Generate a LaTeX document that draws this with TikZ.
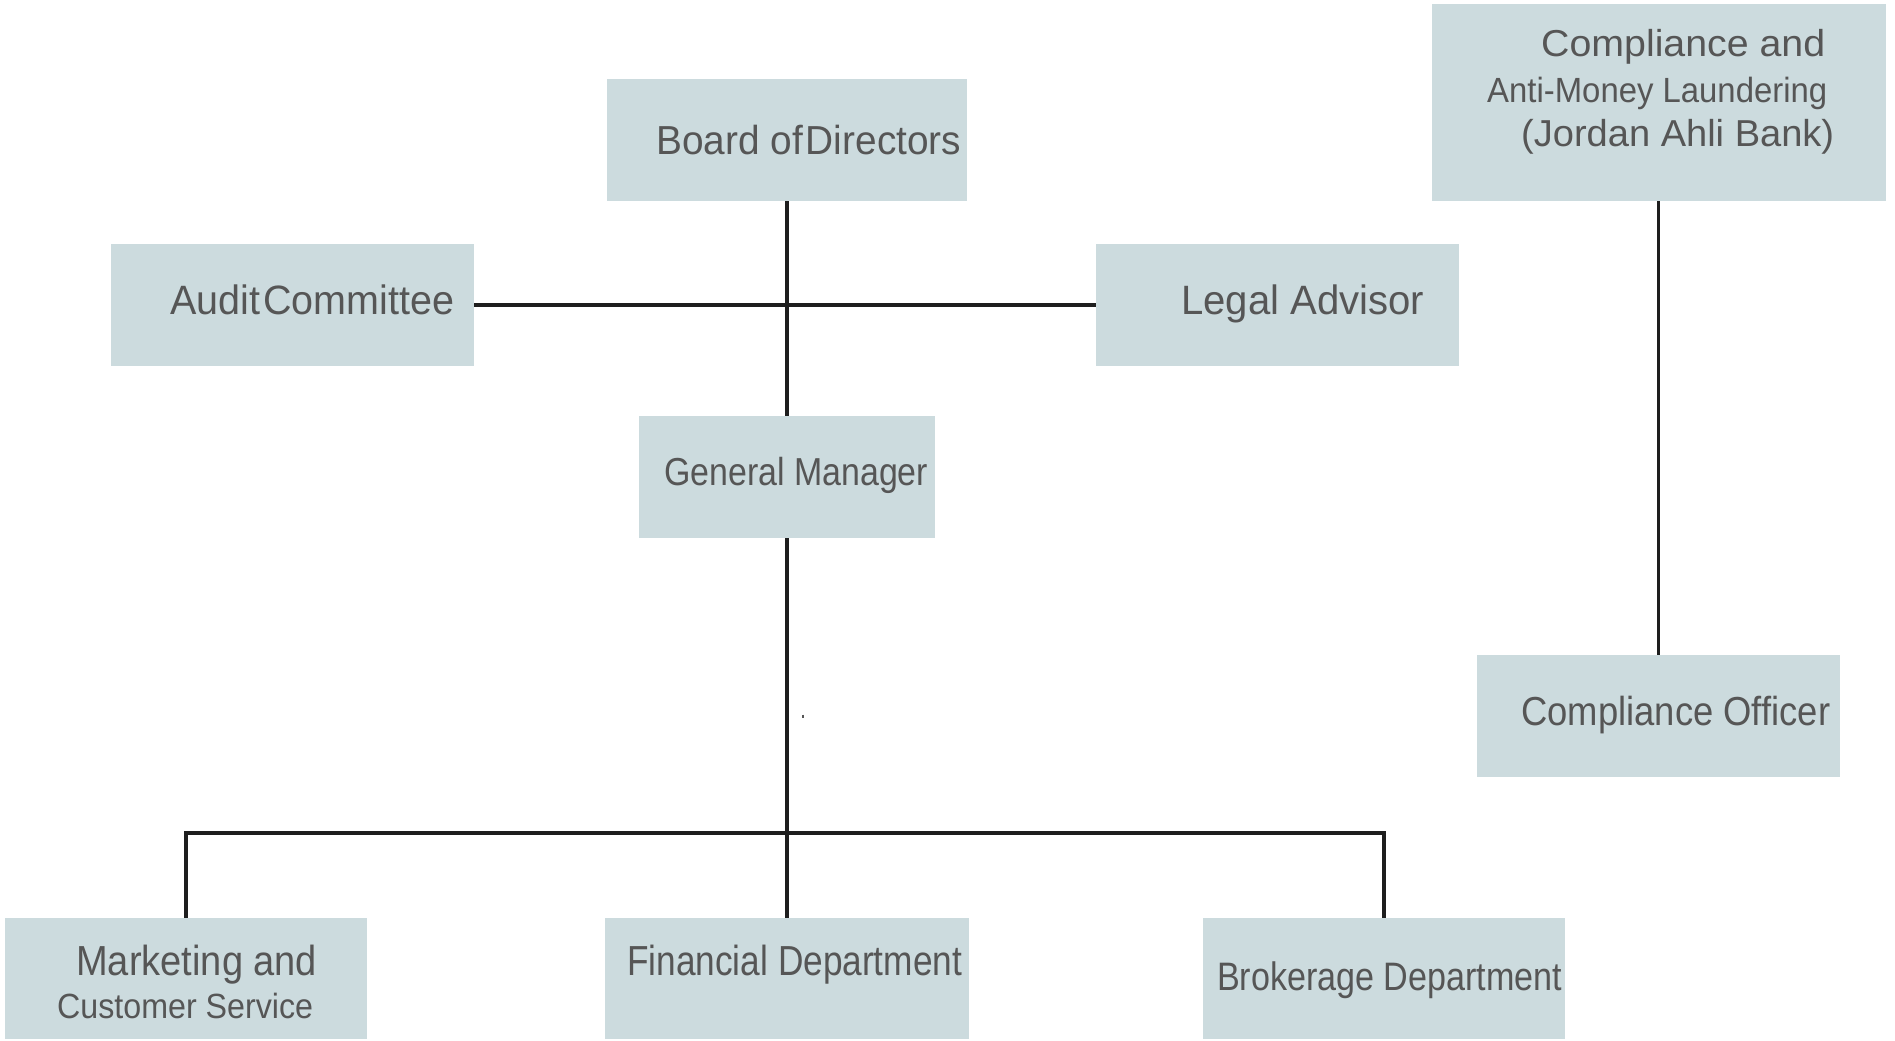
\documentclass[tikz,border=0pt]{standalone}
\usepackage{fontspec}
\setmainfont{Liberation Sans}
\usepackage{graphicx}
\definecolor{boxfill}{HTML}{CCDBDE}
\definecolor{txtgray}{HTML}{565656}
\definecolor{linec}{HTML}{1E1E1E}
\newcommand{\fittext}[3]{\resizebox{#1pt}{\height}{\fontsize{#2pt}{#2pt}\selectfont #3}}
\begin{document}
\begin{tikzpicture}[x=1pt,y=-1pt,
  box/.style={fill=boxfill, draw=none, inner sep=0pt, minimum height=122pt},
  lbl/.style={anchor=base west, inner sep=0pt, text=txtgray},
  link/.style={draw=linec, line width=3.5pt}]
\useasboundingbox[fill=white] (0,0) rectangle (1895,1041);

% boxes
\node[box, minimum width=360pt] (board) at (787,140) {};
\node[box, minimum width=363pt] (audit) at (292.5,305) {};
\node[box, minimum width=363pt] (legal) at (1277.5,305) {};
\node[box, minimum width=296pt] (gm) at (787,477) {};
\node[box, minimum width=454pt, minimum height=197pt] (comp) at (1658.5,102.5) {};
\node[box, minimum width=363pt] (co) at (1658.5,716) {};
\node[box, minimum width=362pt, minimum height=121pt] (mkt) at (186,978.5) {};
\node[box, minimum width=364pt, minimum height=121pt] (fin) at (787,978.5) {};
\node[box, minimum width=362pt, minimum height=121pt] (brk) at (1384,978.5) {};

% connectors
\draw[link] (board.south) -- (gm.north);
\draw[link] (audit.east) -- (legal.west);
\draw[link] (gm.south) -- (fin.north);
\draw[link] (mkt.north) -- ++(0,-85) -| (brk.north);
\draw[link] (comp.south) -- (co.north);
\draw[draw=txtgray, line width=1.2pt] (803,714.5) -- (803,717.5);

% texts
\node[lbl] (boardt) at (656,154) {\fittext{305}{40.5}{Board of\kern-.2em{} Directors}};
\node[lbl] (auditt) at (170,314) {\fittext{284}{41}{Audit\kern-.2em{} Committee}};
\node[lbl] (legalt) at (1181,314) {\fittext{243}{41}{Legal Advisor}};
\node[lbl] (gmt) at (664,485) {\fittext{264}{39}{General Manager}};
\node[lbl] (compt1) at (1541,57) {\fittext{284}{37.5}{Compliance and}};
\node[lbl] (compt2) at (1487,102) {\fittext{340}{35}{Anti-Money Laundering}};
\node[lbl] (compt3) at (1521,146) {\fittext{313}{37.5}{(Jordan Ahli Bank)}};
\node[lbl] (cot) at (1521,725) {\fittext{309}{40.5}{Compliance Officer}};
\node[lbl] (mktt1) at (76,975) {\fittext{241}{42}{Marketing and}};
\node[lbl] (mktt2) at (57,1018) {\fittext{256}{35}{Customer Service}};
\node[lbl] (fint) at (627,975) {\fittext{335}{42}{Financial Department}};
\node[lbl] (brkt) at (1217,990) {\fittext{345}{39.7}{Brokerage Department}};
\end{tikzpicture}
\end{document}
